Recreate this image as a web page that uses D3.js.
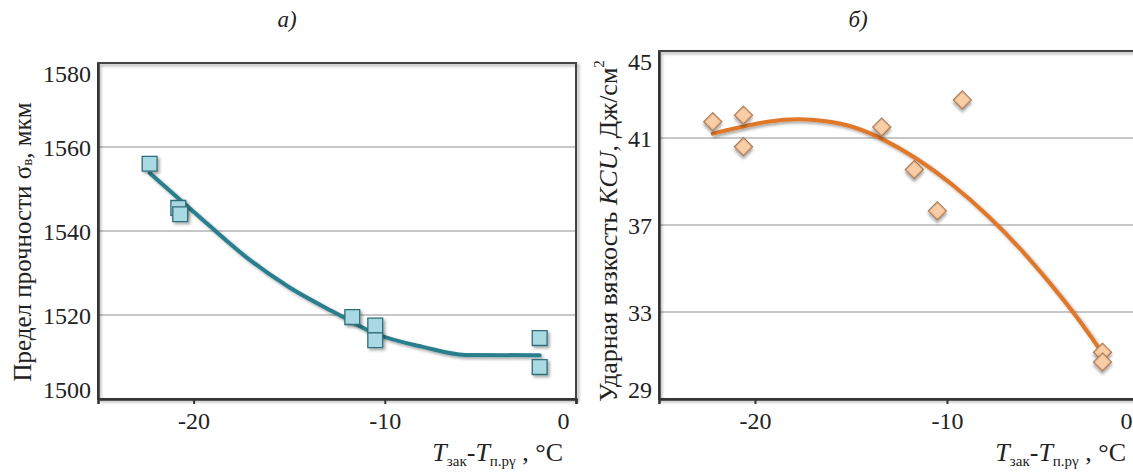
<!DOCTYPE html>
<html>
<head>
<meta charset="utf-8">
<script src="https://cdn.jsdelivr.net/npm/d3@7"></script>
<style>
  body { margin: 0; background: #fff; }
  svg text { font-family: "Liberation Serif", "Times New Roman", serif; fill: #222; }
</style>
</head>
<body>
<div id="chart"></div>
<script>
// panel a) - strength, squares
var strengthX = [-22.3, -20.8, -20.7, -11.7, -10.5, -10.5, -1.9, -1.9];
var strengthY = [1556, 1545.5, 1544, 1519.5, 1517.5, 1514, 1514.5, 1507.6];
var strengthFitX = [-22.3, -20, -17.2, -15, -12.5, -10.5, -8, -5.8, -1.9];
var strengthFitY = [1553.8, 1544.6, 1533.6, 1526.6, 1520.3, 1515.6, 1512.4, 1510.5, 1510.4];
var strengthTicks = [1500, 1520, 1540, 1560, 1580];

// panel б) - impact toughness, diamonds
var kcuX = [-22.2, -20.6, -20.6, -13.4, -11.7, -10.5, -9.2, -1.9, -1.9];
var kcuY = [41.75, 42.05, 40.6, 41.5, 39.55, 37.65, 42.75, 31.15, 30.7];
var kcuFitX = [-22.2, -19.2, -17, -15, -13.4, -11.6, -9.8, -7.8, -6.2, -4.6, -3.2, -1.9];
var kcuFitY = [41.2, 41.85, 41.9, 41.6, 41.0, 40.1, 38.95, 37.4, 35.95, 34.3, 32.75, 31.1];
var kcuTicks = [29, 33, 37, 41, 45];

var xTicks = [-20, -10, 0];

var width = 1133, height = 472;

var svg = d3.select("#chart").append("svg")
    .attr("width", width)
    .attr("height", height);

var defs = svg.append("defs");
defs.append("filter")
    .attr("id", "shadow")
    .attr("x", "-50%").attr("y", "-50%")
    .attr("width", "200%").attr("height", "200%")
  .append("feDropShadow")
    .attr("dx", 2).attr("dy", 2)
    .attr("stdDeviation", 1.6)
    .attr("flood-color", "#000")
    .attr("flood-opacity", 0.35);

// plain "-20" instead of d3's "−20" and no thousands comma
var plain = function(d) { return String(d); };

function drawPanel(opt) {
    var x = d3.scaleLinear().domain([-25, 0]).range([opt.left, opt.right]);
    var y = d3.scaleLinear().domain(opt.yDomain).range([opt.bottom, opt.top]);

    var g = svg.append("g");

    // horizontal grid
    g.selectAll("line.grid")
        .data(opt.yTicks.slice(1, -1))
        .enter().append("line")
        .attr("class", "grid")
        .attr("x1", opt.left).attr("x2", opt.right)
        .attr("y1", function(d) { return y(d); })
        .attr("y2", function(d) { return y(d); })
        .attr("stroke", "#b4b4b4")
        .attr("stroke-width", 1.6);

    // frame
    g.append("rect")
        .attr("x", opt.left).attr("y", opt.top)
        .attr("width", opt.right - opt.left)
        .attr("height", opt.bottom - opt.top)
        .attr("fill", "none")
        .attr("stroke", "#444")
        .attr("stroke-width", 2)
        .attr("filter", "url(#shadow)");

    // y axis
    var yAxis = g.append("g")
        .attr("transform", "translate(" + opt.left + ",0)")
        .call(d3.axisLeft(y).tickValues(opt.yTicks).tickFormat(plain).tickSize(0).tickPadding(7));
    yAxis.select(".domain").attr("stroke", "#333").attr("stroke-width", 2.5);
    yAxis.selectAll("text")
        .attr("font-size", 24)
        .attr("fill", "#222")
        .attr("dy", function(d, i) {
            if (i === 0) return "-0.05em";
            if (i === opt.yTicks.length - 1) return "0.75em";
            return "0.35em";
        });

    // x axis
    var xAxis = g.append("g")
        .attr("transform", "translate(0," + opt.bottom + ")")
        .call(d3.axisBottom(x).tickValues(xTicks).tickFormat(plain).tickSize(5).tickPadding(8));
    xAxis.select(".domain").attr("stroke", "#333").attr("stroke-width", 2.5);
    xAxis.selectAll("line").attr("stroke", "#333").attr("stroke-width", 2);
    xAxis.selectAll("text")
        .attr("font-size", 24)
        .attr("fill", "#222")
        .attr("dx", function(d) { return d === 0 ? -13 : 0; });

    // fitted curve
    var line = d3.line()
        .x(function(d) { return x(d[0]); })
        .y(function(d) { return y(d[1]); })
        .curve(opt.curve);

    g.append("path")
        .datum(d3.zip(opt.fitX, opt.fitY))
        .attr("d", line)
        .attr("fill", "none")
        .attr("stroke", opt.lineColor)
        .attr("stroke-width", 4)
        .attr("stroke-linecap", "round")
        .attr("filter", "url(#shadow)");

    // markers
    var symbol = d3.symbol().type(d3.symbolSquare).size(opt.symbolSize);
    g.selectAll("path.pt")
        .data(d3.zip(opt.dataX, opt.dataY))
        .enter().append("path")
        .attr("class", "pt")
        .attr("d", symbol)
        .attr("transform", function(d) {
            return "translate(" + x(d[0]) + "," + y(d[1]) + ")" + (opt.rotate ? " rotate(45)" : "");
        })
        .attr("fill", opt.markerFill)
        .attr("stroke", opt.markerStroke)
        .attr("stroke-width", 1.3)
        .attr("filter", "url(#shadow)");

    // panel letter
    svg.append("text")
        .attr("x", opt.letterX).attr("y", 27)
        .attr("text-anchor", "middle")
        .attr("font-size", 23)
        .attr("font-style", "italic")
        .text(opt.letter);

    // x axis title
    var xt = svg.append("text")
        .attr("x", opt.right - 13).attr("y", 461)
        .attr("text-anchor", "end")
        .attr("font-size", 26);
    xt.append("tspan").attr("font-style", "italic").text("T");
    xt.append("tspan").attr("font-size", 15).attr("dy", 5).text("зак");
    xt.append("tspan").attr("dy", -5).text("-");
    xt.append("tspan").attr("font-style", "italic").text("T");
    xt.append("tspan").attr("font-size", 15).attr("dy", 5).text("п.рγ");
    xt.append("tspan").attr("dy", -5).text(" , °C");

    // y axis title
    var yt = svg.append("text")
        .attr("transform", "translate(" + opt.yTitleX + "," + opt.yTitleY + ") rotate(-90)")
        .attr("text-anchor", "middle")
        .attr("dominant-baseline", "central")
        .attr("font-size", opt.yTitleSize);
    opt.yTitle(yt);
}

drawPanel({
    left: 98, right: 576, top: 63, bottom: 399,
    yDomain: [1500, 1580], yTicks: strengthTicks,
    dataX: strengthX, dataY: strengthY,
    fitX: strengthFitX, fitY: strengthFitY,
    curve: d3.curveMonotoneX,
    lineColor: "#2b7f8e",
    symbolSize: 220, rotate: false,
    markerFill: "#a9d9e2", markerStroke: "#2f6d7a",
    letter: "а)", letterX: 287,
    yTitleX: 22, yTitleY: 242, yTitleSize: 25,
    yTitle: function(t) {
        t.append("tspan").text("Предел прочности σ");
        t.append("tspan").attr("font-size", 15).attr("dy", 5).text("в");
        t.append("tspan").attr("dy", -5).text(", мкм");
    }
});

drawPanel({
    left: 659, right: 1139, top: 51, bottom: 399,
    yDomain: [29, 45], yTicks: kcuTicks,
    dataX: kcuX, dataY: kcuY,
    fitX: kcuFitX, fitY: kcuFitY,
    curve: d3.curveBasis,
    lineColor: "#e0782a",
    symbolSize: 160, rotate: true,
    markerFill: "#f9cda6", markerStroke: "#a8744c",
    letter: "б)", letterX: 858,
    yTitleX: 608, yTitleY: 231, yTitleSize: 26,
    yTitle: function(t) {
        t.append("tspan").text("Ударная вязкость ");
        t.append("tspan").attr("font-style", "italic").text("KCU");
        t.append("tspan").text(", Дж/см");
        t.append("tspan").attr("font-size", 15).attr("dy", -9).text("2");
    }
});
</script>
</body>
</html>
